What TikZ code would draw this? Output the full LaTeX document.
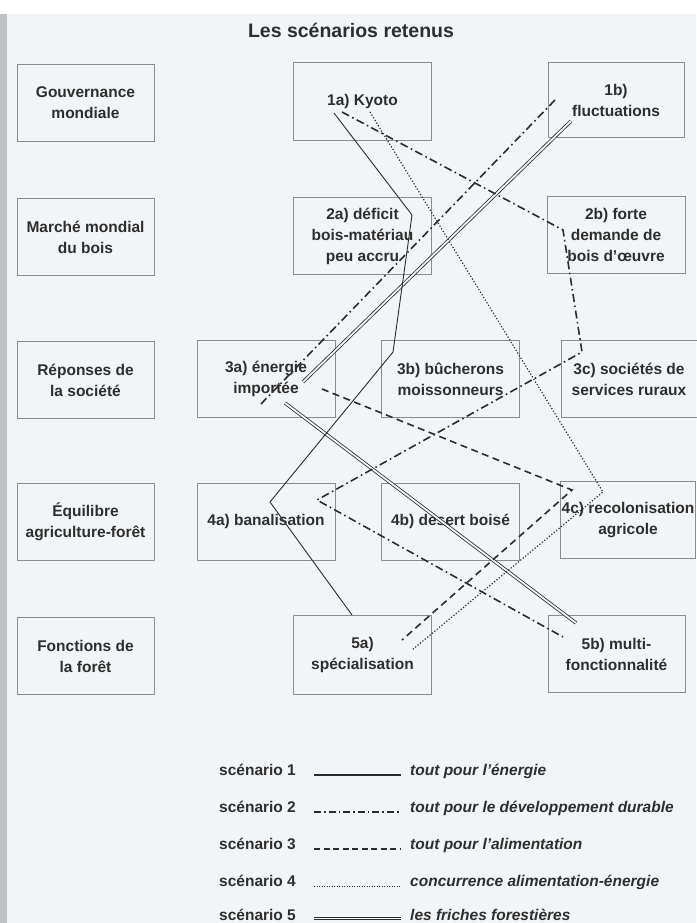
\documentclass[tikz,border=0pt]{standalone}
\usepackage{fontspec}
\setmainfont{Liberation Sans}
\definecolor{bg}{HTML}{F2F5F7}
\definecolor{txt}{HTML}{2E2E2E}
\definecolor{boxgray}{HTML}{8A8D90}
\definecolor{ink}{HTML}{2C2C2C}
\definecolor{strip}{HTML}{BFC3C6}
\begin{document}
\begin{tikzpicture}[x=1pt,y=-1pt,
  box/.style={draw=boxgray, line width=1pt, minimum width=138pt, minimum height=77pt,
    inner sep=0pt, align=center, text=txt, font=\fontsize{15.5}{21}\selectfont\bfseries},
  lab/.style={inner sep=0pt, anchor=base west, text=txt, font=\fontsize{15.5}{18}\selectfont\bfseries},
  desc/.style={inner sep=0pt, anchor=base west, text=txt, font=\fontsize{15.5}{18}\selectfont\bfseries\itshape},
  sone/.style={draw=ink, line width=0.9pt},
  stwo/.style={draw=ink, line width=1.6pt, dash pattern=on 8pt off 3.5pt on 1.6pt off 3.5pt},
  sthree/.style={draw=ink, line width=1.6pt, dash pattern=on 7pt off 4.5pt},
  sfour/.style={draw=ink, line width=1.2pt, dash pattern=on 1.2pt off 1.9pt},
  sfive/.style={draw=ink, line width=0.8pt, double=bg, double distance=1.8pt}]
\useasboundingbox (0,0) rectangle (696,923);
\fill[bg] (0,0) rectangle (696,923);
\fill[white] (0,0) rectangle (696,14);
\fill[strip] (0,14) rectangle (7,923);

\node[font=\fontsize{19.5}{22}\selectfont\bfseries, text=txt] (title) at (351,30) {Les scénarios retenus};

% left column
\node[box, minimum width=137pt] (g1) at (85.5,103) {Gouvernance\\mondiale};
\node[box, minimum width=137pt] (g2) at (85.5,237) {Marché mondial\\du bois};
\node[box, minimum width=137pt] (g3) at (85.5,380) {Réponses de\\la société};
\node[box, minimum width=137pt] (g4) at (85.5,522) {Équilibre\\agriculture-forêt};
\node[box, minimum width=137pt] (g5) at (85.5,656) {Fonctions de\\la forêt};

% scenario boxes
\node[box] (b1a) at (362.5,101.5) {1a) Kyoto};
\node[box, minimum width=136pt, minimum height=75pt] (b1b) at (616,100) {1b)\\fluctuations};
\node[box] (b2a) at (362.5,236) {2a) déficit\\bois-matériau\\peu accru};
\node[box] (b2b) at (616,235) {2b) forte\\demande de\\bois d’œuvre};
\node[box] (b3a) at (266,379) {3a) énergie\\importée};
\node[box] (b3b) at (450.5,379) {3b) bûcherons\\moissonneurs};
\node[box, minimum width=136pt] (b3c) at (629,379) {3c) sociétés de\\services ruraux};
\node[box] (b4a) at (266,521.5) {4a) banalisation};
\node[box] (b4b) at (450.5,521.5) {4b) désert boisé};
\node[box, minimum width=135pt] (b4c) at (628,520) {4c) recolonisation\\agricole};
\node[box, minimum height=79pt] (b5a) at (362.5,655) {5a)\\spécialisation};
\node[box, minimum width=137pt] (b5b) at (616.5,654) {5b) multi-\\fonctionnalité};

% path vertices
\coordinate (a1) at (334,113);
\coordinate (a2) at (412,215);
\coordinate (a3) at (393,352);
\coordinate (a4) at (270,502);
\coordinate (a5) at (352,615);

\coordinate (d1) at (342,112);
\coordinate (d2) at (563,230);
\coordinate (d3) at (582,352);
\coordinate (d4) at (317,500);
\coordinate (d5) at (563,637);
\coordinate (e1) at (555,100);
\coordinate (e2) at (260,405);

\coordinate (h1) at (322,389);
\coordinate (h2) at (572,490);
\coordinate (h3) at (402,640);

\coordinate (t1) at (370,112);
\coordinate (t2) at (603,492);
\coordinate (t3) at (412,650);

\coordinate (w1) at (571,121);
\coordinate (w2) at (303,382);
\coordinate (w3) at (285,403);
\coordinate (w4) at (576,623);

% scenario paths
\draw[sfive] (w1) -- (w2);
\draw[sfive] (w3) -- (w4);
\draw[sone] (a1) -- (a2) -- (a3) -- (a4) -- (a5);
\draw[stwo] (d1) -- (d2) -- (d3) -- (d4) -- (d5);
\draw[stwo] (e1) -- (e2);
\draw[sthree] (h1) -- (h2) -- (h3);
\draw[sfour] (t1) -- (t2) -- (t3);

% legend
\foreach \i/\yy in {1/775,2/812,3/849,4/886,5/920}{
  \coordinate (la\i) at (314,\yy);
  \coordinate (lb\i) at (401,\yy);
}
\node[lab] (n1) at (219,775) {scénario 1};
\node[lab] (n2) at (219,812) {scénario 2};
\node[lab] (n3) at (219,849) {scénario 3};
\node[lab] (n4) at (219,886) {scénario 4};
\node[lab] (n5) at (219,920) {scénario 5};
\draw[sone, line width=1.1pt] (la1) -- (lb1);
\draw[stwo, dash pattern=on 7pt off 3pt on 1.6pt off 3pt] (la2) -- (lb2);
\draw[sthree, dash pattern=on 6pt off 3.5pt] (la3) -- (lb3);
\draw[sfour, line width=1pt, dash pattern=on 1pt off 1.5pt] (la4) -- (lb4);
\draw[sfive] ([yshift=1.5pt]la5) -- ([yshift=1.5pt]lb5);
\node[desc] (m1) at (410,775) {tout pour l’énergie};
\node[desc] (m2) at (410,812) {tout pour le développement durable};
\node[desc] (m3) at (410,849) {tout pour l’alimentation};
\node[desc] (m4) at (410,886) {concurrence alimentation-énergie};
\node[desc] (m5) at (410,920) {les friches forestières};
\end{tikzpicture}
\end{document}
